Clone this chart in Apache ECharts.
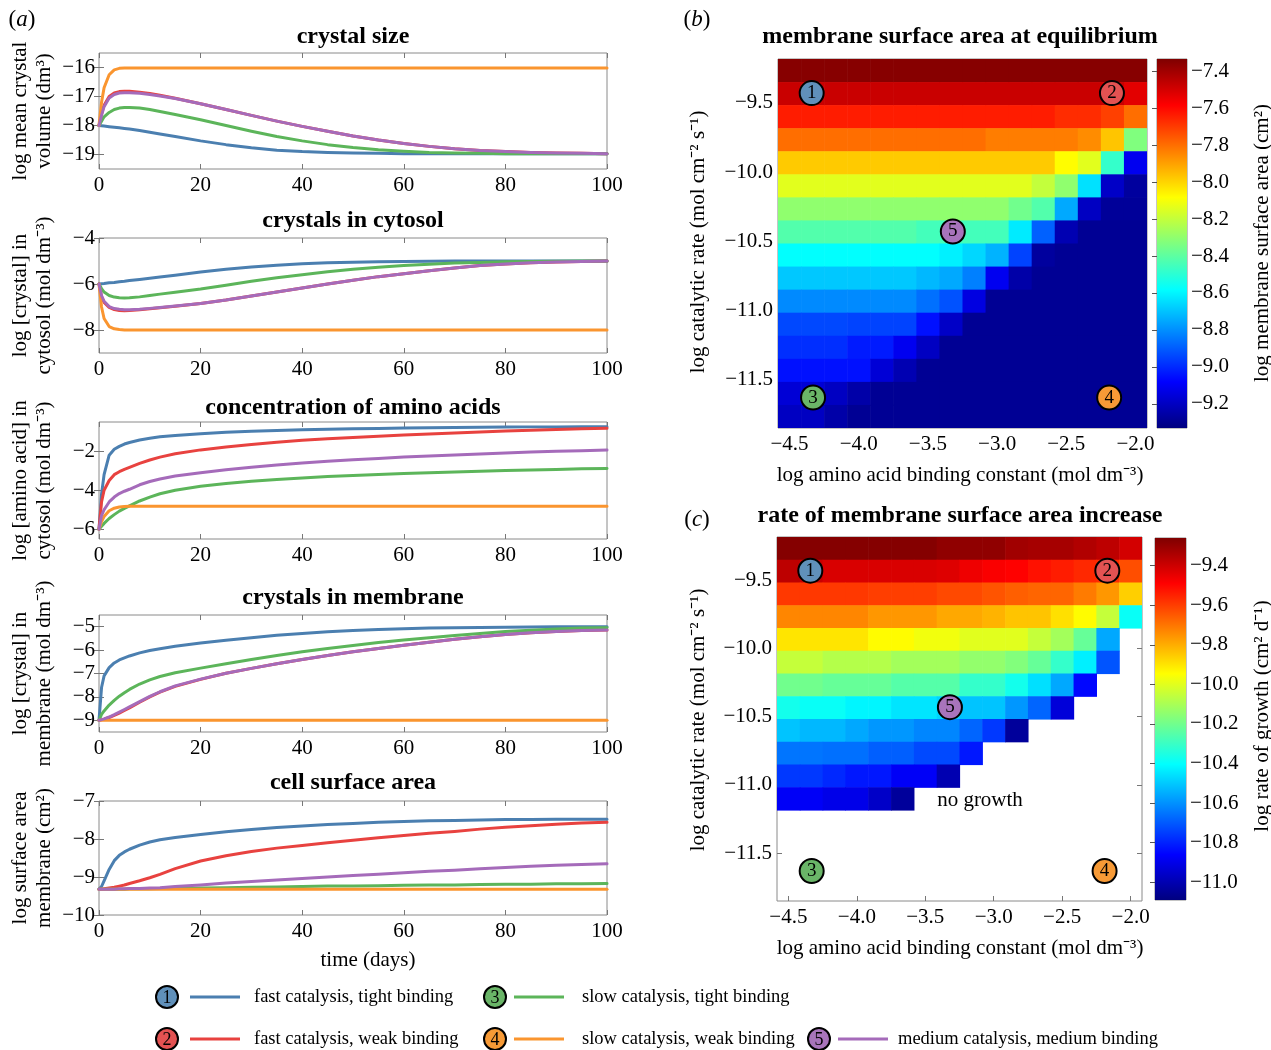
<!DOCTYPE html>
<html><head><meta charset="utf-8">
<script src="https://cdn.jsdelivr.net/npm/echarts@6/dist/echarts.min.js"></script>
<style>html,body{margin:0;padding:0;background:#fff}#c{width:1271px;height:1050px}</style>
</head><body><div id="c"></div>
<script>
// ---------------- data ----------------
const T = [0,0.5,1,2,3,4,5,6,8,10,12,15,20,25,30,35,40,45,50,55,60,65,70,75,80,85,90,95,100];
const SCENARIOS = ['fast catalysis, tight binding','fast catalysis, weak binding','slow catalysis, tight binding','slow catalysis, weak binding','medium catalysis, medium binding'];
const SCEN_NUM = ['1','2','3','4','5'];
// crystal size
const SIZE_1 = [-18,-18.01,-18.02,-18.04,-18.06,-18.08,-18.1,-18.12,-18.17,-18.23,-18.29,-18.38,-18.53,-18.66,-18.77,-18.85,-18.9,-18.93,-18.95,-18.96,-18.97,-18.97,-18.97,-18.97,-18.97,-18.97,-18.97,-18.97,-18.97];
const SIZE_2 = [-18,-17.6,-17.3,-17.0,-16.88,-16.83,-16.82,-16.82,-16.85,-16.9,-16.96,-17.06,-17.25,-17.45,-17.65,-17.85,-18.03,-18.2,-18.36,-18.5,-18.62,-18.72,-18.8,-18.86,-18.9,-18.93,-18.95,-18.96,-18.97];
const SIZE_3 = [-18,-17.85,-17.7,-17.55,-17.45,-17.4,-17.38,-17.38,-17.4,-17.45,-17.52,-17.62,-17.8,-18.0,-18.2,-18.38,-18.53,-18.66,-18.76,-18.84,-18.89,-18.93,-18.95,-18.96,-18.97,-18.97,-18.97,-18.97,-18.97];
const SIZE_4 = [-18,-17.2,-16.7,-16.25,-16.08,-16.03,-16.02,-16.02,-16.02,-16.02,-16.02,-16.02,-16.02,-16.02,-16.02,-16.02,-16.02,-16.02,-16.02,-16.02,-16.02,-16.02,-16.02,-16.02,-16.02,-16.02,-16.02,-16.02,-16.02];
const SIZE_5 = [-18,-17.65,-17.35,-17.05,-16.93,-16.88,-16.87,-16.87,-16.89,-16.93,-16.98,-17.07,-17.25,-17.45,-17.65,-17.85,-18.03,-18.2,-18.36,-18.5,-18.62,-18.72,-18.8,-18.86,-18.9,-18.93,-18.95,-18.96,-18.97];
// crystals in cytosol
const CYTO_1 = [-6,-5.99,-5.98,-5.95,-5.93,-5.9,-5.88,-5.85,-5.8,-5.75,-5.7,-5.62,-5.48,-5.36,-5.26,-5.18,-5.12,-5.08,-5.05,-5.03,-5.02,-5.01,-5.0,-5.0,-5.0,-5.0,-5.0,-5.0,-5.0];
const CYTO_2 = [-6,-6.55,-6.8,-7.02,-7.11,-7.15,-7.16,-7.15,-7.12,-7.08,-7.03,-6.97,-6.85,-6.7,-6.52,-6.35,-6.17,-6.0,-5.84,-5.68,-5.55,-5.42,-5.3,-5.2,-5.13,-5.08,-5.04,-5.02,-5.0];
const CYTO_3 = [-6,-6.2,-6.35,-6.5,-6.57,-6.6,-6.61,-6.6,-6.56,-6.5,-6.44,-6.36,-6.22,-6.05,-5.88,-5.73,-5.6,-5.47,-5.36,-5.27,-5.2,-5.14,-5.09,-5.06,-5.03,-5.02,-5.01,-5.0,-5.0];
const CYTO_4 = [-6,-7.0,-7.5,-7.85,-7.95,-7.98,-8,-8,-8,-8,-8,-8,-8,-8,-8,-8,-8,-8,-8,-8,-8,-8,-8,-8,-8,-8,-8,-8,-8];
const CYTO_5 = [-6,-6.5,-6.75,-6.98,-7.07,-7.1,-7.12,-7.12,-7.1,-7.06,-7.02,-6.96,-6.85,-6.7,-6.52,-6.35,-6.17,-6.0,-5.84,-5.68,-5.55,-5.42,-5.3,-5.2,-5.13,-5.08,-5.04,-5.02,-5.0];
// amino acids
const AMINO_1 = [-6,-4.2,-3.2,-2.2,-1.9,-1.75,-1.63,-1.55,-1.42,-1.33,-1.26,-1.19,-1.1,-1.03,-0.98,-0.94,-0.9,-0.87,-0.85,-0.83,-0.81,-0.8,-0.78,-0.77,-0.76,-0.75,-0.75,-0.74,-0.74];
const AMINO_2 = [-6,-4.6,-4.0,-3.5,-3.2,-3.05,-2.93,-2.83,-2.62,-2.45,-2.3,-2.13,-1.93,-1.78,-1.65,-1.54,-1.44,-1.36,-1.29,-1.23,-1.17,-1.11,-1.06,-1.01,-0.96,-0.92,-0.88,-0.85,-0.82];
const AMINO_3 = [-6,-5.85,-5.7,-5.45,-5.25,-5.07,-4.93,-4.8,-4.55,-4.35,-4.18,-4.0,-3.8,-3.65,-3.54,-3.45,-3.37,-3.3,-3.24,-3.19,-3.14,-3.1,-3.06,-3.02,-2.99,-2.96,-2.93,-2.9,-2.88];
const AMINO_4 = [-6,-5.6,-5.35,-5.05,-4.92,-4.86,-4.83,-4.82,-4.82,-4.82,-4.82,-4.82,-4.82,-4.82,-4.82,-4.82,-4.82,-4.82,-4.82,-4.82,-4.82,-4.82,-4.82,-4.82,-4.82,-4.82,-4.82,-4.82,-4.82];
const AMINO_5 = [-6,-5.3,-5.0,-4.6,-4.35,-4.17,-4.05,-3.95,-3.72,-3.55,-3.42,-3.27,-3.1,-2.95,-2.82,-2.7,-2.6,-2.51,-2.44,-2.37,-2.3,-2.24,-2.19,-2.14,-2.09,-2.04,-2.0,-1.97,-1.94];
// crystals in membrane
const MEMB_1 = [-9,-7.6,-7.1,-6.75,-6.55,-6.42,-6.33,-6.25,-6.12,-6.02,-5.94,-5.84,-5.7,-5.58,-5.47,-5.37,-5.29,-5.22,-5.16,-5.12,-5.09,-5.06,-5.04,-5.03,-5.02,-5.01,-5.0,-5.0,-5.0];
const MEMB_2 = [-9,-8.98,-8.95,-8.88,-8.79,-8.69,-8.58,-8.47,-8.23,-8.0,-7.8,-7.55,-7.25,-6.99,-6.78,-6.58,-6.4,-6.23,-6.07,-5.93,-5.79,-5.66,-5.54,-5.43,-5.33,-5.26,-5.2,-5.16,-5.14];
const MEMB_3 = [-9,-8.75,-8.6,-8.35,-8.15,-7.97,-7.82,-7.68,-7.45,-7.27,-7.13,-6.97,-6.77,-6.58,-6.4,-6.23,-6.07,-5.93,-5.8,-5.68,-5.57,-5.47,-5.38,-5.29,-5.21,-5.15,-5.1,-5.06,-5.04];
const MEMB_4 = [-9,-9,-9,-9,-9,-9,-9,-9,-9,-9,-9,-9,-9,-9,-9,-9,-9,-9,-9,-9,-9,-9,-9,-9,-9,-9,-9,-9,-9];
const MEMB_5 = [-9,-8.97,-8.94,-8.86,-8.76,-8.65,-8.54,-8.43,-8.2,-7.98,-7.78,-7.53,-7.24,-6.99,-6.78,-6.58,-6.4,-6.23,-6.07,-5.93,-5.79,-5.66,-5.54,-5.43,-5.33,-5.26,-5.2,-5.16,-5.14];
// cell surface area
const AREA_1 = [-9.32,-9.25,-9.1,-8.8,-8.57,-8.43,-8.34,-8.27,-8.16,-8.08,-8.02,-7.96,-7.88,-7.81,-7.75,-7.7,-7.66,-7.62,-7.59,-7.56,-7.54,-7.52,-7.51,-7.5,-7.49,-7.49,-7.48,-7.48,-7.48];
const AREA_2 = [-9.32,-9.32,-9.31,-9.29,-9.27,-9.24,-9.21,-9.17,-9.1,-9.02,-8.93,-8.78,-8.58,-8.44,-8.33,-8.24,-8.17,-8.1,-8.03,-7.97,-7.91,-7.85,-7.8,-7.74,-7.69,-7.65,-7.61,-7.58,-7.56];
const AREA_3 = [-9.32,-9.32,-9.32,-9.32,-9.32,-9.32,-9.32,-9.31,-9.31,-9.31,-9.3,-9.3,-9.29,-9.28,-9.27,-9.26,-9.25,-9.24,-9.24,-9.23,-9.22,-9.21,-9.21,-9.2,-9.19,-9.19,-9.18,-9.18,-9.17];
const AREA_4 = [-9.32,-9.32,-9.32,-9.32,-9.32,-9.32,-9.32,-9.32,-9.32,-9.32,-9.32,-9.32,-9.32,-9.32,-9.32,-9.32,-9.32,-9.32,-9.32,-9.32,-9.32,-9.32,-9.32,-9.32,-9.32,-9.32,-9.32,-9.32,-9.32];
const AREA_5 = [-9.32,-9.32,-9.32,-9.32,-9.32,-9.31,-9.31,-9.3,-9.3,-9.29,-9.28,-9.25,-9.21,-9.16,-9.12,-9.08,-9.04,-9.0,-8.96,-8.93,-8.89,-8.85,-8.82,-8.78,-8.75,-8.72,-8.69,-8.67,-8.65];

// heatmaps: columns = log amino acid binding constant, rows = log catalytic rate (top row first)
const BIND = [-4.5,-4.3333,-4.1667,-4.0,-3.8333,-3.6667,-3.5,-3.3333,-3.1667,-3.0,-2.8333,-2.6667,-2.5,-2.3333,-2.1667,-2.0];
const CAT = [-9.2667,-9.4333,-9.6,-9.7667,-9.9333,-10.1,-10.2667,-10.4333,-10.6,-10.7667,-10.9333,-11.1,-11.2667,-11.4333,-11.6,-11.7667];
const EQ_AREA = [
 [-7.35,-7.35,-7.35,-7.35,-7.35,-7.35,-7.35,-7.35,-7.35,-7.35,-7.35,-7.35,-7.35,-7.35,-7.35,-7.35],
 [-7.48,-7.48,-7.48,-7.48,-7.48,-7.48,-7.48,-7.48,-7.48,-7.48,-7.48,-7.48,-7.48,-7.48,-7.48,-7.53],
 [-7.64,-7.64,-7.64,-7.64,-7.64,-7.64,-7.64,-7.64,-7.64,-7.64,-7.64,-7.64,-7.67,-7.67,-7.71,-7.80],
 [-7.80,-7.80,-7.80,-7.80,-7.80,-7.80,-7.80,-7.80,-7.80,-7.83,-7.83,-7.83,-7.83,-7.86,-7.97,-8.33],
 [-7.98,-7.98,-7.98,-7.98,-7.98,-7.98,-7.98,-7.98,-7.98,-7.98,-7.98,-7.98,-8.08,-8.14,-8.48,-9.11],
 [-8.14,-8.14,-8.14,-8.14,-8.14,-8.14,-8.14,-8.14,-8.14,-8.14,-8.14,-8.20,-8.30,-8.64,-9.19,-9.27],
 [-8.30,-8.30,-8.30,-8.30,-8.30,-8.30,-8.30,-8.30,-8.30,-8.30,-8.36,-8.42,-8.75,-9.20,-9.28,-9.28],
 [-8.42,-8.42,-8.42,-8.42,-8.42,-8.42,-8.45,-8.45,-8.45,-8.45,-8.62,-8.89,-9.23,-9.29,-9.29,-9.29],
 [-8.58,-8.58,-8.58,-8.58,-8.58,-8.58,-8.58,-8.61,-8.66,-8.73,-8.95,-9.27,-9.29,-9.29,-9.29,-9.29],
 [-8.69,-8.69,-8.69,-8.69,-8.69,-8.69,-8.72,-8.75,-8.83,-9.11,-9.25,-9.29,-9.29,-9.29,-9.29,-9.29],
 [-8.81,-8.81,-8.81,-8.81,-8.81,-8.81,-8.86,-8.92,-9.14,-9.29,-9.29,-9.29,-9.29,-9.29,-9.29,-9.29],
 [-8.94,-8.94,-8.94,-8.95,-8.95,-8.95,-9.05,-9.19,-9.29,-9.29,-9.29,-9.29,-9.29,-9.29,-9.29,-9.29],
 [-8.99,-8.99,-8.99,-9.03,-9.03,-9.11,-9.20,-9.29,-9.29,-9.29,-9.29,-9.29,-9.29,-9.29,-9.29,-9.29],
 [-9.05,-9.05,-9.05,-9.05,-9.16,-9.23,-9.29,-9.29,-9.29,-9.29,-9.29,-9.29,-9.29,-9.29,-9.29,-9.29],
 [-9.16,-9.16,-9.20,-9.25,-9.29,-9.29,-9.29,-9.29,-9.29,-9.29,-9.29,-9.29,-9.29,-9.29,-9.29,-9.29],
 [-9.20,-9.20,-9.25,-9.29,-9.29,-9.29,-9.29,-9.29,-9.29,-9.29,-9.29,-9.29,-9.29,-9.29,-9.29,-9.29]
];
const GROWTH_RATE = [
 [-9.27,-9.27,-9.27,-9.27,-9.27,-9.27,-9.27,-9.29,-9.29,-9.29,-9.32,-9.33,-9.33,-9.35,-9.37,-9.41],
 [-9.37,-9.39,-9.42,-9.42,-9.42,-9.42,-9.42,-9.43,-9.46,-9.48,-9.49,-9.52,-9.54,-9.56,-9.57,-9.63],
 [-9.59,-9.59,-9.59,-9.59,-9.60,-9.60,-9.60,-9.62,-9.62,-9.64,-9.66,-9.67,-9.67,-9.71,-9.76,-9.86],
 [-9.73,-9.73,-9.73,-9.73,-9.76,-9.76,-9.76,-9.79,-9.79,-9.81,-9.84,-9.84,-9.89,-9.94,-10.05,-10.39],
 [-9.90,-9.90,-9.90,-9.90,-9.94,-9.94,-9.97,-9.97,-10.0,-10.0,-10.0,-10.05,-10.11,-10.22,-10.56,null],
 [-10.05,-10.05,-10.08,-10.08,-10.08,-10.11,-10.11,-10.11,-10.14,-10.14,-10.17,-10.22,-10.31,-10.43,-10.71,null],
 [-10.20,-10.20,-10.22,-10.22,-10.22,-10.25,-10.25,-10.25,-10.31,-10.31,-10.37,-10.46,-10.56,-10.85,null,null],
 [-10.37,-10.39,-10.39,-10.42,-10.42,-10.45,-10.45,-10.48,-10.51,-10.51,-10.59,-10.68,-10.93,null,null,null],
 [-10.51,-10.53,-10.53,-10.56,-10.59,-10.59,-10.62,-10.62,-10.68,-10.76,-11.04,null,null,null,null,null],
 [-10.65,-10.65,-10.66,-10.66,-10.69,-10.69,-10.73,-10.73,-10.82,null,null,null,null,null,null,null],
 [-10.76,-10.76,-10.79,-10.82,-10.82,-10.875,-10.875,-11.0,null,null,null,null,null,null,null,null],
 [-10.875,-10.875,-10.9,-10.9,-10.96,-11.04,null,null,null,null,null,null,null,null,null,null],
 [null,null,null,null,null,null,null,null,null,null,null,null,null,null,null,null],
 [null,null,null,null,null,null,null,null,null,null,null,null,null,null,null,null],
 [null,null,null,null,null,null,null,null,null,null,null,null,null,null,null,null],
 [null,null,null,null,null,null,null,null,null,null,null,null,null,null,null,null]
];
// scenario locations on the heatmaps (binding constant, catalytic rate)
const SCEN_BIND = [-4.34,-2.17,-4.33,-2.19,-3.32];
const SCEN_CAT = [-9.43,-9.43,-11.63,-11.63,-10.43];

// tick values
const X_TICKS = [0,20,40,60,80,100];
const SIZE_TICKS = [-19,-18,-17,-16];
const CYTO_TICKS = [-8,-6,-4];
const AMINO_TICKS = [-6,-4,-2];
const MEMB_TICKS = [-9,-8,-7,-6,-5];
const AREA_TICKS = [-10,-9,-8,-7];
const BIND_TICKS = [-4.5,-4.0,-3.5,-3.0,-2.5,-2.0];
const CAT_TICKS = [-11.5,-11.0,-10.5,-10.0,-9.5];
const CB_EQ_TICKS = [-9.2,-9.0,-8.8,-8.6,-8.4,-8.2,-8.0,-7.8,-7.6,-7.4];
const CB_GR_TICKS = [-11.0,-10.8,-10.6,-10.4,-10.2,-10.0,-9.8,-9.6,-9.4];

// ---------------- styling ----------------
const FONT = 'Liberation Serif';
const TICK_FS = 21;
const NAME_FS = 21;
const COLORS = ['#4b7fb0','#e8423f','#5cb55a','#fa952f','#a56bba'];
const MARK_COLORS = ['#6090ba','#e35252','#6ab568','#f79a36','#a874bb'];
const JET = ['#00007f','#0000ff','#007fff','#00ffff','#7fff7f','#ffff00','#ff7f00','#ff0000','#7f0000'];
const AXC = '#777';
const fmt = d => v => (v < 0 ? '\u2212' : '') + Math.abs(v).toFixed(d);

const grids = [], xAxes = [], yAxes = [], series = [], graphic = [];

function axis(gi, pos, min, max, ticks, label) {
  return {
    gridIndex: gi, type: 'value', position: pos, min: min, max: max,
    axisLine: {show: false}, splitLine: {show: false},
    axisTick: {show: true, inside: true, length: 5, lineStyle: {color: AXC, width: 1}, customValues: ticks},
    axisLabel: label ? Object.assign({show: true, customValues: ticks, color: '#000', fontFamily: FONT, fontSize: TICK_FS}, label) : {show: false, customValues: ticks}
  };
}
function addGrid(rect, xr, xt, xl, yr, yt, yl) {
  const gi = grids.length;
  grids.push({left: rect[0], top: rect[1], width: rect[2], height: rect[3], show: true, borderColor: '#8a8a8a', borderWidth: 1, containLabel: false});
  const xi = xAxes.length, yi = yAxes.length;
  xAxes.push(axis(gi, 'bottom', xr[0], xr[1], xt, xl));
  xAxes.push(axis(gi, 'top', xr[0], xr[1], xt, null));
  yAxes.push(axis(gi, 'left', yr[0], yr[1], yt, yl));
  yAxes.push(axis(gi, 'right', yr[0], yr[1], yt, null));
  return {xi, yi};
}
function txt(x, y, text, size, opts) {
  const o = Object.assign({bold: false, rot: 0, align: 'center', lh: null}, opts || {});
  const el = {type: 'text', x: x, y: y, rotation: o.rot, z: 100,
    style: {text: text, fill: '#000', fontFamily: FONT, fontSize: size, fontWeight: o.bold ? 'bold' : 'normal',
      align: o.align, verticalAlign: 'middle'}};
  if (o.lh) el.style.lineHeight = o.lh;
  if (o.rich) el.style.rich = o.rich;
  graphic.push(el);
}

// ---------------- left line panels ----------------
const PANELS = [
  {rect: [99, 53, 508, 116], yr: [-19.5, -15.5], yt: SIZE_TICKS, data: [SIZE_1, SIZE_2, SIZE_3, SIZE_4, SIZE_5], title: 'crystal size', ty: 37, name: 'log mean crystal\nvolume (dm\u00b3)'},
  {rect: [99, 238, 508, 115], yr: [-9, -4], yt: CYTO_TICKS, data: [CYTO_1, CYTO_2, CYTO_3, CYTO_4, CYTO_5], title: 'crystals in cytosol', ty: 221, name: 'log [crystal] in\ncytosol (mol dm\u207b\u00b3)'},
  {rect: [99, 422, 508, 117], yr: [-6.5, -0.5], yt: AMINO_TICKS, data: [AMINO_1, AMINO_2, AMINO_3, AMINO_4, AMINO_5], title: 'concentration of amino acids', ty: 408, name: 'log [amino acid] in\ncytosol (mol dm\u207b\u00b3)'},
  {rect: [99, 615, 508, 117], yr: [-9.5, -4.5], yt: MEMB_TICKS, data: [MEMB_1, MEMB_2, MEMB_3, MEMB_4, MEMB_5], title: 'crystals in membrane', ty: 598, name: 'log [crystal] in\nmembrane (mol dm\u207b\u00b3)'},
  {rect: [99, 801, 508, 114], yr: [-10, -7], yt: AREA_TICKS, data: [AREA_1, AREA_2, AREA_3, AREA_4, AREA_5], title: 'cell surface area', ty: 783, name: 'log surface area\nmembrane (cm\u00b2)'}
];
PANELS.forEach(p => {
  const ax = addGrid(p.rect, [0, 100], X_TICKS, {margin: 6, formatter: fmt(0)}, p.yr, p.yt, {margin: 4, formatter: fmt(0)});
  p.data.forEach((arr, k) => {
    series.push({type: 'line', xAxisIndex: ax.xi, yAxisIndex: ax.yi, data: T.map((t, i) => [t, arr[i]]),
      showSymbol: false, smooth: false, lineStyle: {width: 3, color: COLORS[k], join: 'round', cap: 'round'}, itemStyle: {color: COLORS[k]},
      emphasis: {disabled: true}, z: 2 + k});
  });
  txt(353, p.ty, p.title, 24, {bold: true});
  txt(32, p.rect[1] + p.rect[3] / 2, p.name, NAME_FS, {rot: Math.PI / 2, lh: 24});
});
txt(368, 960, 'time (days)', 21);
txt(22, 20, '({i|a})', 23, {rich: {i: {fontStyle: 'italic', fontFamily: FONT, fontSize: 23}}});

// ---------------- heatmaps ----------------
const HX = [BIND[0] - (BIND[1] - BIND[0]) / 2, BIND[BIND.length - 1] + (BIND[1] - BIND[0]) / 2];
const HY = [CAT[CAT.length - 1] - (CAT[0] - CAT[1]) / 2, CAT[0] + (CAT[0] - CAT[1]) / 2];
const HW = (BIND[1] - BIND[0]) / 2, HH = (CAT[0] - CAT[1]) / 2;
function cells(mat) {
  const out = [];
  mat.forEach((row, r) => row.forEach((v, c) => { if (v !== null) out.push([BIND[c], CAT[r], v]); }));
  return out;
}
function cellSeries(ax, mat) {
  return {type: 'custom', xAxisIndex: ax.xi, yAxisIndex: ax.yi, data: cells(mat), encode: {x: 0, y: 1}, clip: true, z: 1,
    renderItem: (params, api) => {
      const x = api.value(0), y = api.value(1);
      const a = api.coord([x - HW, y + HH]), b = api.coord([x + HW, y - HH]);
      return {type: 'rect', shape: {x: a[0], y: a[1], width: b[0] - a[0] + 0.6, height: b[1] - a[1] + 0.6}, style: {fill: api.visual('color')}};
    }};
}
function markSeries(ax) {
  return {type: 'scatter', xAxisIndex: ax.xi, yAxisIndex: ax.yi, z: 10, symbolSize: 24,
    data: SCEN_BIND.map((x, i) => ({value: [x, SCEN_CAT[i]], itemStyle: {color: MARK_COLORS[i], borderColor: '#000', borderWidth: 2, opacity: 1}})),
    itemStyle: {opacity: 1},
    label: {show: true, position: 'inside', formatter: p => SCEN_NUM[p.dataIndex], color: '#000', fontFamily: FONT, fontSize: 19},
    emphasis: {disabled: true}};
}
function colorbar(rect, range, ticks) {
  const gi = grids.length;
  grids.push({left: rect[0], top: rect[1], width: rect[2], height: rect[3], show: true, borderColor: '#8a8a8a', borderWidth: 1});
  const xi = xAxes.length, yi = yAxes.length;
  xAxes.push({gridIndex: gi, type: 'value', min: 0, max: 1, show: false});
  yAxes.push({gridIndex: gi, type: 'value', position: 'right', min: range[0], max: range[1],
    axisLine: {show: false}, splitLine: {show: false},
    axisTick: {show: true, inside: true, length: 5, lineStyle: {color: '#555'}, customValues: ticks},
    axisLabel: {show: true, customValues: ticks, color: '#000', fontFamily: FONT, fontSize: TICK_FS, margin: 4, formatter: fmt(1)}});
  series.push({type: 'custom', xAxisIndex: xi, yAxisIndex: yi, data: [[0, range[0], 1, range[1]]], encode: {x: [0, 2], y: [1, 3]}, z: 1,
    renderItem: (params, api) => {
      const a = api.coord([0, range[1]]), b = api.coord([1, range[0]]);
      return {type: 'rect', shape: {x: a[0], y: a[1], width: b[0] - a[0], height: b[1] - a[1]},
        style: {fill: new echarts.graphic.LinearGradient(0, 1, 0, 0, JET.map((c, i) => ({offset: i / (JET.length - 1), color: c})))}};
    }});
}
const EQ_RANGE = [-9.33, -7.335];
const GR_RANGE = [-11.09, -9.26];

const axB = addGrid([778, 59, 369, 369], HX, BIND_TICKS, {margin: 6, formatter: fmt(1)}, HY, CAT_TICKS, {margin: 5, formatter: fmt(1)});
const sB = series.length; series.push(cellSeries(axB, EQ_AREA));
series.push(markSeries(axB));
colorbar([1157, 59, 30, 369], EQ_RANGE, CB_EQ_TICKS);

const axC = addGrid([777, 537, 365, 364], HX, BIND_TICKS, {margin: 6, formatter: fmt(1)}, HY, CAT_TICKS, {margin: 5, formatter: fmt(1)});
const sC = series.length; series.push(cellSeries(axC, GROWTH_RATE));
series.push(markSeries(axC));
colorbar([1155, 538, 31, 362], GR_RANGE, CB_GR_TICKS);

txt(960, 37, 'membrane surface area at equilibrium', 24, {bold: true});
txt(960, 516, 'rate of membrane surface area increase', 24, {bold: true});
txt(697, 20, '({i|b})', 23, {rich: {i: {fontStyle: 'italic', fontFamily: FONT, fontSize: 23}}});
txt(697, 520, '({i|c})', 23, {rich: {i: {fontStyle: 'italic', fontFamily: FONT, fontSize: 23}}});
txt(698, 242, 'log catalytic rate (mol cm\u207b\u00b2 s\u207b\u00b9)', NAME_FS, {rot: Math.PI / 2});
txt(698, 720, 'log catalytic rate (mol cm\u207b\u00b2 s\u207b\u00b9)', NAME_FS, {rot: Math.PI / 2});
txt(960, 475, 'log amino acid binding constant (mol dm\u207b\u00b3)', NAME_FS);
txt(960, 948, 'log amino acid binding constant (mol dm\u207b\u00b3)', NAME_FS);
txt(1262, 243, 'log membrane surface area (cm\u00b2)', NAME_FS, {rot: Math.PI / 2});
txt(1262, 716, 'log rate of growth (cm\u00b2 d\u207b\u00b9)', NAME_FS, {rot: Math.PI / 2});
txt(980, 800, 'no growth', 21);

// ---------------- legend ----------------
const LEG = [
  {cx: 167, cy: 997, lx: 190, tx: 254},
  {cx: 167, cy: 1039, lx: 190, tx: 254},
  {cx: 495, cy: 997, lx: 514, tx: 582},
  {cx: 495, cy: 1039, lx: 514, tx: 582},
  {cx: 819, cy: 1039, lx: 838, tx: 898}
];
LEG.forEach((g, i) => {
  graphic.push({type: 'circle', shape: {cx: g.cx, cy: g.cy, r: 11}, style: {fill: MARK_COLORS[i], stroke: '#000', lineWidth: 2}, z: 100});
  txt(g.cx, g.cy + 1, SCEN_NUM[i], 18);
  graphic.push({type: 'line', shape: {x1: g.lx, y1: g.cy, x2: g.lx + 50, y2: g.cy}, style: {stroke: COLORS[i], lineWidth: 3}, z: 100});
  txt(g.tx, g.cy, SCENARIOS[i], 18.5, {align: 'left'});
});

const chart = echarts.init(document.getElementById('c'), null, {renderer: 'canvas'});
chart.setOption({
  animation: false,
  backgroundColor: '#fff',
  grid: grids, xAxis: xAxes, yAxis: yAxes,
  visualMap: [
    {type: 'continuous', show: false, seriesIndex: sB, dimension: 2, min: EQ_RANGE[0], max: EQ_RANGE[1], inRange: {color: JET}},
    {type: 'continuous', show: false, seriesIndex: sC, dimension: 2, min: GR_RANGE[0], max: GR_RANGE[1], inRange: {color: JET}}
  ],
  series: series,
  graphic: graphic
});
</script></body></html>
